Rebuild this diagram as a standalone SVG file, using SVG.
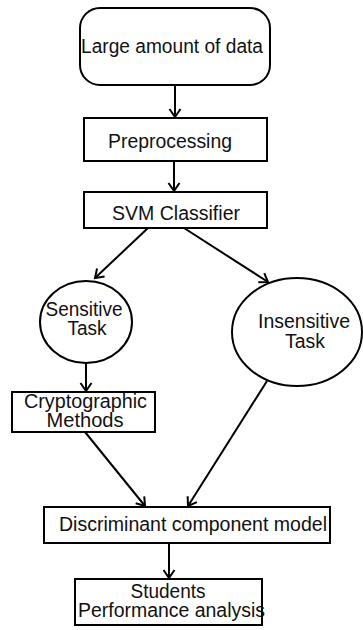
<svg xmlns="http://www.w3.org/2000/svg" width="363" height="630" viewBox="0 0 363 630">
<style>
.box{fill:#fff;stroke:#000;stroke-width:2}
.t{font-family:"Liberation Sans",Arial,sans-serif;font-size:20px;fill:#111;text-anchor:middle}
.c{stroke:#000;stroke-width:2;fill:none;marker-end:url(#ah)}
</style>
<defs>
<marker id="ah" markerUnits="userSpaceOnUse" viewBox="-10 -7 12 14" refX="0" refY="0" markerWidth="12" markerHeight="14" orient="auto">
<path d="M-8,-5.5 L0,0 L-8,5.5" fill="none" stroke="#000" stroke-width="2"/>
</marker>
</defs>
<rect width="363" height="630" fill="#fff"/>
<g id="connectors">
<line class="c" x1="175" y1="85" x2="175" y2="117"/>
<line class="c" x1="174" y1="161" x2="174" y2="191"/>
<line class="c" x1="148" y1="228" x2="95" y2="278"/>
<line class="c" x1="184" y1="228" x2="268" y2="282"/>
<line class="c" x1="86" y1="363" x2="86" y2="391"/>
<line class="c" x1="85" y1="432" x2="145" y2="506"/>
<line class="c" x1="267" y1="381" x2="188" y2="506"/>
<line class="c" x1="169" y1="543" x2="169" y2="578"/>
</g>
<g id="n1">
<rect class="box" x="80" y="8" width="190" height="77" rx="20"/>
<text class="t" x="172" y="53" textLength="182" lengthAdjust="spacingAndGlyphs">Large amount of data</text>
</g>
<g id="n2">
<rect class="box" x="84" y="118" width="183" height="43"/>
<text class="t" x="170" y="147.5" textLength="124" lengthAdjust="spacingAndGlyphs">Preprocessing</text>
</g>
<g id="n3">
<rect class="box" x="84" y="192" width="183" height="36"/>
<text class="t" x="176" y="220" textLength="128" lengthAdjust="spacingAndGlyphs">SVM Classifier</text>
</g>
<g id="n4">
<ellipse class="box" cx="86" cy="322" rx="46" ry="41"/>
<text class="t" x="84" y="316" textLength="77" lengthAdjust="spacingAndGlyphs">Sensitive</text>
<text class="t" x="87" y="335" textLength="39" lengthAdjust="spacingAndGlyphs">Task</text>
</g>
<g id="n5">
<ellipse class="box" cx="297" cy="332" rx="65" ry="54"/>
<text class="t" x="304" y="328" textLength="92" lengthAdjust="spacingAndGlyphs">Insensitive</text>
<text class="t" x="305" y="348" textLength="40" lengthAdjust="spacingAndGlyphs">Task</text>
</g>
<g id="n6">
<rect class="box" x="12" y="392" width="143" height="40"/>
<text class="t" x="85.5" y="408" textLength="123" lengthAdjust="spacingAndGlyphs">Cryptographic</text>
<text class="t" x="85" y="427" textLength="77" lengthAdjust="spacingAndGlyphs">Methods</text>
</g>
<g id="n7">
<rect class="box" x="44" y="507" width="286" height="36"/>
<text class="t" x="193" y="531" textLength="268" lengthAdjust="spacingAndGlyphs">Discriminant component model</text>
</g>
<g id="n8">
<rect class="box" x="75" y="579" width="187" height="46"/>
<text class="t" x="168" y="598" textLength="75" lengthAdjust="spacingAndGlyphs">Students</text>
<text class="t" x="171.5" y="617" textLength="187" lengthAdjust="spacingAndGlyphs">Performance analysis</text>
</g>
</svg>
